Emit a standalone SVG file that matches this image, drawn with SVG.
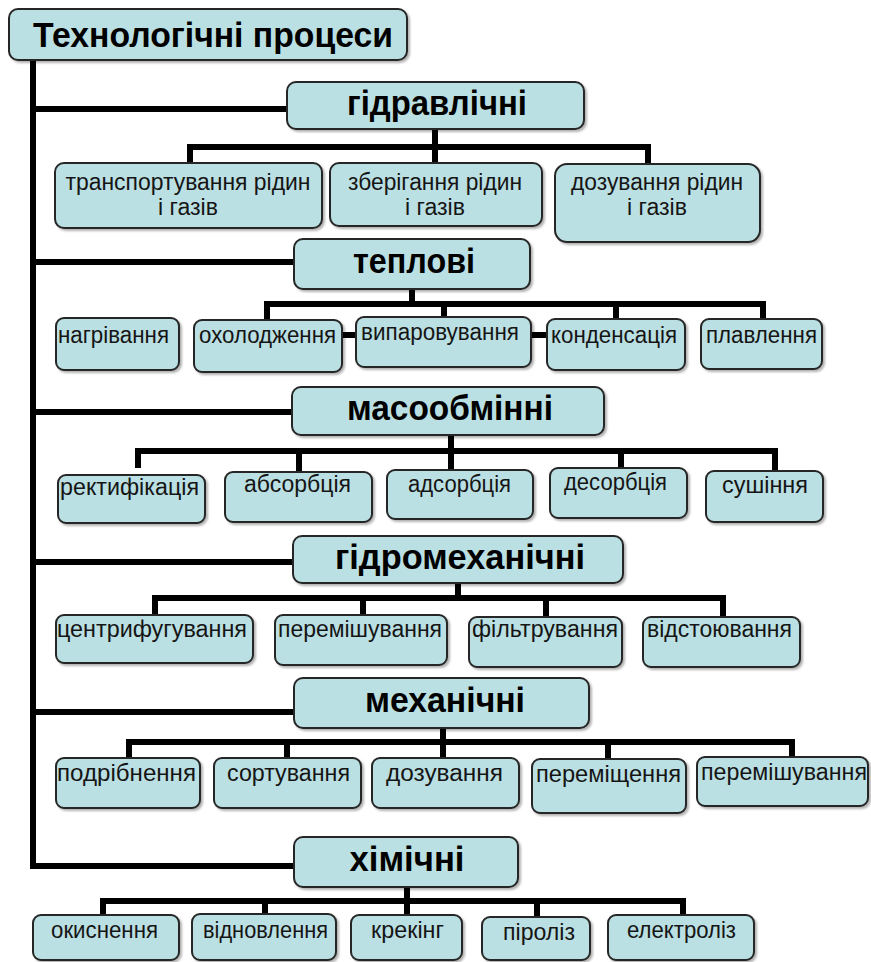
<svg xmlns="http://www.w3.org/2000/svg" width="871" height="962" viewBox="0 0 871 962">
<style>
.bx{fill:#bbe0e3;stroke:#262626;stroke-width:2;filter:url(#sh)}
.h{font-family:"Liberation Sans",Arial,sans-serif;font-weight:bold;font-size:35px;fill:#000;text-anchor:middle}
.t{font-family:"Liberation Sans",Arial,sans-serif;font-size:23px;fill:#151515;text-anchor:middle}
.c{fill:none;stroke:#000;stroke-width:6;stroke-linejoin:miter;stroke-linecap:butt}
</style>
<defs>
<filter id="sh" x="-10%" y="-10%" width="130%" height="140%">
<feDropShadow dx="2" dy="2" stdDeviation="1.2" flood-color="#000" flood-opacity="0.3"/>
</filter>
</defs>
<rect width="871" height="962" fill="#fff"/>
<g id="connectors">
<path class="c" d="M33,60 V866 H294"/>
<path class="c" d="M33,109 H287 M33,262 H294 M33,412 H292 M33,562 H293 M33,712 H294"/>
<path class="c" d="M435,129 V147 M190,163 V147 H648 V164 M435,147 V163"/>
<path class="c" d="M412,289 V304 M267,320 V304 H763 V319 M444,304 V317 M616,304 V319 M340,335 H550"/>
<path class="c" d="M451,435 V451 M138,468 V451 H775 V471 M299,451 V472 M451,451 V470 M621,451 V468"/>
<path class="c" d="M458,583 V598 M155,615 V598 H723 V617 M363,598 V615 M546,598 V617"/>
<path class="c" d="M443,728 V742 M129,758 V742 H792 V757 M287,742 V758 M443,742 V758 M608,742 V759"/>
<path class="c" d="M407,887 V901 M103,915 V901 H683 V915 M265,901 V914 M407,901 V915 M537,901 V917"/>
</g>
<g id="root"><rect class="bx" x="9" y="9" width="398" height="51" rx="9"/><text class="h" x="213" y="47" textLength="360" lengthAdjust="spacingAndGlyphs">Технологічні процеси</text></g>
<g id="hydraulic"><rect class="bx" x="287" y="82" width="297" height="47" rx="9"/><text class="h" x="437" y="115" textLength="180" lengthAdjust="spacingAndGlyphs">гідравлічні</text></g>
<g id="h1"><rect class="bx" x="55" y="163" width="267" height="65" rx="9"/><text class="t" x="188" y="190" textLength="245" lengthAdjust="spacingAndGlyphs">транспортування рідин</text><text class="t" x="188" y="215" textLength="60" lengthAdjust="spacingAndGlyphs">і газів</text></g>
<g id="h2"><rect class="bx" x="330" y="163" width="212" height="63" rx="9"/><text class="t" x="435" y="190" textLength="174" lengthAdjust="spacingAndGlyphs">зберігання рідин</text><text class="t" x="435" y="215" textLength="60" lengthAdjust="spacingAndGlyphs">і газів</text></g>
<g id="h3"><rect class="bx" x="555" y="164" width="205" height="78" rx="12"/><text class="t" x="657" y="190" textLength="172" lengthAdjust="spacingAndGlyphs">дозування рідин</text><text class="t" x="657" y="215" textLength="60" lengthAdjust="spacingAndGlyphs">і газів</text></g>
<g id="thermal"><rect class="bx" x="294" y="239" width="236" height="50" rx="9"/><text class="h" x="414" y="273" textLength="122" lengthAdjust="spacingAndGlyphs">теплові</text></g>
<g id="t1"><rect class="bx" x="56" y="318" width="123" height="52" rx="8"/><text class="t" x="113.5" y="343" textLength="111" lengthAdjust="spacingAndGlyphs">нагрівання</text></g>
<g id="t2"><rect class="bx" x="194" y="320" width="148" height="52" rx="8"/><text class="t" x="267.5" y="343" textLength="137" lengthAdjust="spacingAndGlyphs">охолодження</text></g>
<g id="t3"><rect class="bx" x="356" y="317" width="175" height="50" rx="8"/><text class="t" x="440" y="340" textLength="158" lengthAdjust="spacingAndGlyphs">випаровування</text></g>
<g id="t4"><rect class="bx" x="547" y="319" width="138" height="51" rx="8"/><text class="t" x="614" y="343" textLength="126" lengthAdjust="spacingAndGlyphs">конденсація</text></g>
<g id="t5"><rect class="bx" x="701" y="319" width="121" height="50" rx="8"/><text class="t" x="761.5" y="343" textLength="111" lengthAdjust="spacingAndGlyphs">плавлення</text></g>
<g id="mass"><rect class="bx" x="292" y="387" width="312" height="48" rx="9"/><text class="h" x="450" y="420" textLength="206" lengthAdjust="spacingAndGlyphs">масообмінні</text></g>
<g id="m1"><rect class="bx" x="58" y="475" width="147" height="48" rx="8"/><text class="t" x="129.5" y="495" textLength="139" lengthAdjust="spacingAndGlyphs">ректифікація</text></g>
<g id="m2"><rect class="bx" x="225" y="472" width="147" height="50" rx="8"/><text class="t" x="297.5" y="492" textLength="107" lengthAdjust="spacingAndGlyphs">абсорбція</text></g>
<g id="m3"><rect class="bx" x="387" y="470" width="146" height="49" rx="8"/><text class="t" x="459.5" y="492" textLength="103" lengthAdjust="spacingAndGlyphs">адсорбція</text></g>
<g id="m4"><rect class="bx" x="550" y="468" width="137" height="50" rx="8"/><text class="t" x="615.5" y="490" textLength="103" lengthAdjust="spacingAndGlyphs">десорбція</text></g>
<g id="m5"><rect class="bx" x="706" y="471" width="117" height="51" rx="8"/><text class="t" x="765" y="493" textLength="86" lengthAdjust="spacingAndGlyphs">сушіння</text></g>
<g id="hydromech"><rect class="bx" x="293" y="536" width="330" height="47" rx="9"/><text class="h" x="460" y="569" textLength="250" lengthAdjust="spacingAndGlyphs">гідромеханічні</text></g>
<g id="g1"><rect class="bx" x="56" y="615" width="197" height="48" rx="8"/><text class="t" x="152" y="637" textLength="190" lengthAdjust="spacingAndGlyphs">центрифугування</text></g>
<g id="g2"><rect class="bx" x="275" y="615" width="172" height="50" rx="8"/><text class="t" x="360" y="637" textLength="164" lengthAdjust="spacingAndGlyphs">перемішування</text></g>
<g id="g3"><rect class="bx" x="469" y="617" width="153" height="50" rx="8"/><text class="t" x="545" y="637" textLength="146" lengthAdjust="spacingAndGlyphs">фільтрування</text></g>
<g id="g4"><rect class="bx" x="643" y="617" width="157" height="50" rx="8"/><text class="t" x="719.5" y="637" textLength="145" lengthAdjust="spacingAndGlyphs">відстоювання</text></g>
<g id="mech"><rect class="bx" x="294" y="678" width="295" height="50" rx="9"/><text class="h" x="445" y="712" textLength="160" lengthAdjust="spacingAndGlyphs">механічні</text></g>
<g id="k1"><rect class="bx" x="56" y="758" width="144" height="50" rx="8"/><text class="t" x="126.5" y="781" textLength="139" lengthAdjust="spacingAndGlyphs">подрібнення</text></g>
<g id="k2"><rect class="bx" x="214" y="758" width="147" height="50" rx="8"/><text class="t" x="288.5" y="781" textLength="123" lengthAdjust="spacingAndGlyphs">сортування</text></g>
<g id="k3"><rect class="bx" x="372" y="758" width="147" height="50" rx="8"/><text class="t" x="444.5" y="781" textLength="117" lengthAdjust="spacingAndGlyphs">дозування</text></g>
<g id="k4"><rect class="bx" x="532" y="759" width="154" height="54" rx="8"/><text class="t" x="608.5" y="782" textLength="145" lengthAdjust="spacingAndGlyphs">переміщення</text></g>
<g id="k5"><rect class="bx" x="697" y="757" width="171" height="49" rx="8"/><text class="t" x="784" y="780" textLength="166" lengthAdjust="spacingAndGlyphs">перемішування</text></g>
<g id="chem"><rect class="bx" x="294" y="837" width="224" height="50" rx="9"/><text class="h" x="407" y="871" textLength="115" lengthAdjust="spacingAndGlyphs">хімічні</text></g>
<g id="c1"><rect class="bx" x="33" y="915" width="146" height="45" rx="8"/><text class="t" x="104.5" y="938" textLength="107" lengthAdjust="spacingAndGlyphs">окиснення</text></g>
<g id="c2"><rect class="bx" x="192" y="914" width="144" height="46" rx="8"/><text class="t" x="265.5" y="938" textLength="125" lengthAdjust="spacingAndGlyphs">відновлення</text></g>
<g id="c3"><rect class="bx" x="351" y="915" width="111" height="45" rx="8"/><text class="t" x="407.5" y="938" textLength="73" lengthAdjust="spacingAndGlyphs">крекінг</text></g>
<g id="c4"><rect class="bx" x="482" y="917" width="108" height="43" rx="8"/><text class="t" x="539" y="940" textLength="72" lengthAdjust="spacingAndGlyphs">піроліз</text></g>
<g id="c5"><rect class="bx" x="608" y="915" width="146" height="45" rx="8"/><text class="t" x="681.5" y="938" textLength="109" lengthAdjust="spacingAndGlyphs">електроліз</text></g>
</svg>
